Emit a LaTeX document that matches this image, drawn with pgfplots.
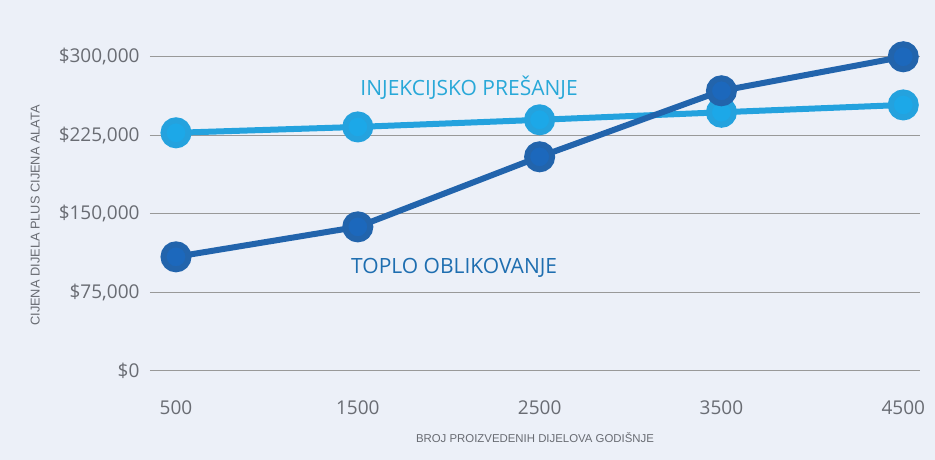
\documentclass[border=0pt]{standalone}
\usepackage{pgfplots}
\pgfplotsset{compat=1.18}
\usepackage{fontspec}
\setmainfont{Open Sans}
\newfontfamily\narrowfont{Liberation Sans}
\definecolor{bg}{RGB}{236,240,248}
\definecolor{lightb}{RGB}{28,168,232}
\definecolor{lightl}{RGB}{36,162,222}
\definecolor{darkb}{RGB}{28,104,188}
\definecolor{darkl}{RGB}{34,100,172}
\definecolor{ticktxt}{RGB}{105,108,115}
\definecolor{lbl1}{RGB}{40,168,216}
\definecolor{lbl2}{RGB}{30,110,176}
\begin{document}
\begin{tikzpicture}[x=1pt,y=1pt]
\fill[bg] (0,0) rectangle (935,460);
\begin{axis}[at={(150pt,89pt)}, anchor=south west, scale only axis,
  width=770pt, height=331pt,
  xmin=357, xmax=4592, ymin=0, ymax=316000,
  axis line style={draw=none}, major tick length=0pt,
  ymajorgrids, grid style={draw=black!40, line width=1pt},
  xtick={500,1500,2500,3500,4500},
  xticklabels={500,1500,2500,3500,4500},
  ytick={0,75000,150000,225000,300000},
  yticklabels={\$0,\$75{,}000,\$150{,}000,\$225{,}000,\$300{,}000},
  scaled ticks=false,
  /pgf/number format/assume math mode=true,
  tick label style={font=\fontsize{19}{22}\selectfont, text=ticktxt},
  xticklabel style={anchor=center, yshift=-37pt},
  yticklabel style={anchor=east, xshift=-7pt},
  xlabel={BROJ PROIZVEDENIH DIJELOVA GODIŠNJE},
  ylabel={CIJENA DIJELA PLUS CIJENA ALATA},
  xlabel style={font=\narrowfont\fontsize{11.4}{13}\selectfont, text=ticktxt, at={(axis description cs:0.5,-0.2)}, anchor=center},
  ylabel style={font=\narrowfont\fontsize{12.8}{14}\selectfont, text=ticktxt, at={(axis description cs:-0.149,0.47)}, anchor=center},
  clip=false,
]
\addplot[lightl, line width=6pt, mark=*, mark size=12.5pt, mark options={fill=lightb, draw=none}]
  coordinates {(500,227400) (1500,233000) (2500,239800) (3500,247000) (4500,254000)};
\addplot[darkl, line width=6pt, mark=*, mark size=12.5pt, mark options={fill=darkb, draw=none}]
  coordinates {(500,109000) (1500,137600) (2500,204500) (3500,267500) (4500,300000)};
\node[text=lbl1, font=\fontsize{21}{24}\selectfont] at (axis cs:2112,270400) {INJEKCIJSKO PREŠANJE};
\node[text=lbl2, font=\fontsize{21}{24}\selectfont] at (axis cs:2030,98400) {TOPLO OBLIKOVANJE};
\end{axis}
\end{tikzpicture}
\end{document}
